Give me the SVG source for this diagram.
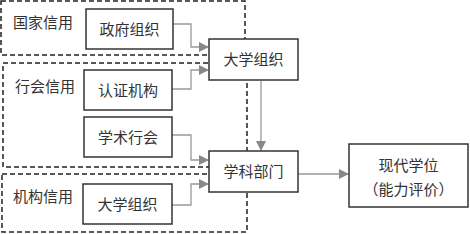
<svg xmlns="http://www.w3.org/2000/svg" width="470" height="234" viewBox="0 0 470 234">
<style>
.dash{fill:none;stroke:#222;stroke-width:1.5;stroke-dasharray:5 3}
.box{fill:#fff;stroke:#333;stroke-width:1.5}
.t{font-family:"Noto Sans CJK SC","Noto Sans",sans-serif;font-size:15px;fill:#333}
.c{text-anchor:middle}
.con{fill:none;stroke:#999;stroke-width:1.3}
</style>
<defs>
<marker id="arr" markerWidth="10" markerHeight="10" refX="9" refY="5" orient="auto" markerUnits="userSpaceOnUse">
<path d="M0,0 L10,5 L0,10 Z" fill="#888"/>
</marker>
</defs>
<g id="groups">
<rect class="dash" x="1" y="1" width="244" height="54"/>
<rect class="dash" x="3" y="63" width="244" height="104"/>
<rect class="dash" x="2" y="174" width="245" height="58"/>
<text class="t" x="13" y="28">国家信用</text>
<text class="t" x="15" y="92">行会信用</text>
<text class="t" x="13" y="202">机构信用</text>
</g>
<g id="connectors">
<polyline class="con" points="173,24 191,24 191,47 208,47" marker-end="url(#arr)"/>
<polyline class="con" points="172,89 191,89 191,70 208,70" marker-end="url(#arr)"/>
<polyline class="con" points="172,135 191,135 191,160 208,160" marker-end="url(#arr)"/>
<polyline class="con" points="172,205 191,205 191,184 208,184" marker-end="url(#arr)"/>
<line class="con" x1="261" y1="81" x2="261" y2="150" marker-end="url(#arr)"/>
<line class="con" x1="298" y1="174" x2="348" y2="174" marker-end="url(#arr)"/>
</g>
<g id="n-zhengfu"><rect class="box" x="86" y="9" width="87" height="40"/><text class="t c" x="129.5" y="34.5">政府组织</text></g>
<g id="n-renzheng"><rect class="box" x="84" y="70" width="88" height="40"/><text class="t c" x="128" y="95.5">认证机构</text></g>
<g id="n-xueshu"><rect class="box" x="84" y="117" width="88" height="40"/><text class="t c" x="128" y="142.5">学术行会</text></g>
<g id="n-daxue2"><rect class="box" x="83" y="184" width="89" height="40"/><text class="t c" x="127.5" y="209.5">大学组织</text></g>
<g id="n-daxue"><rect class="box" x="209" y="39" width="89" height="41"/><text class="t c" x="253.5" y="65">大学组织</text></g>
<g id="n-xueke"><rect class="box" x="209" y="151" width="89" height="41"/><text class="t c" x="253.5" y="177">学科部门</text></g>
<g id="n-xiandai"><rect class="box" x="349" y="144" width="119" height="63"/><text class="t c" x="408.5" y="171">现代学位</text><text class="t c" x="408.5" y="195">（能力评价）</text></g>
</svg>
